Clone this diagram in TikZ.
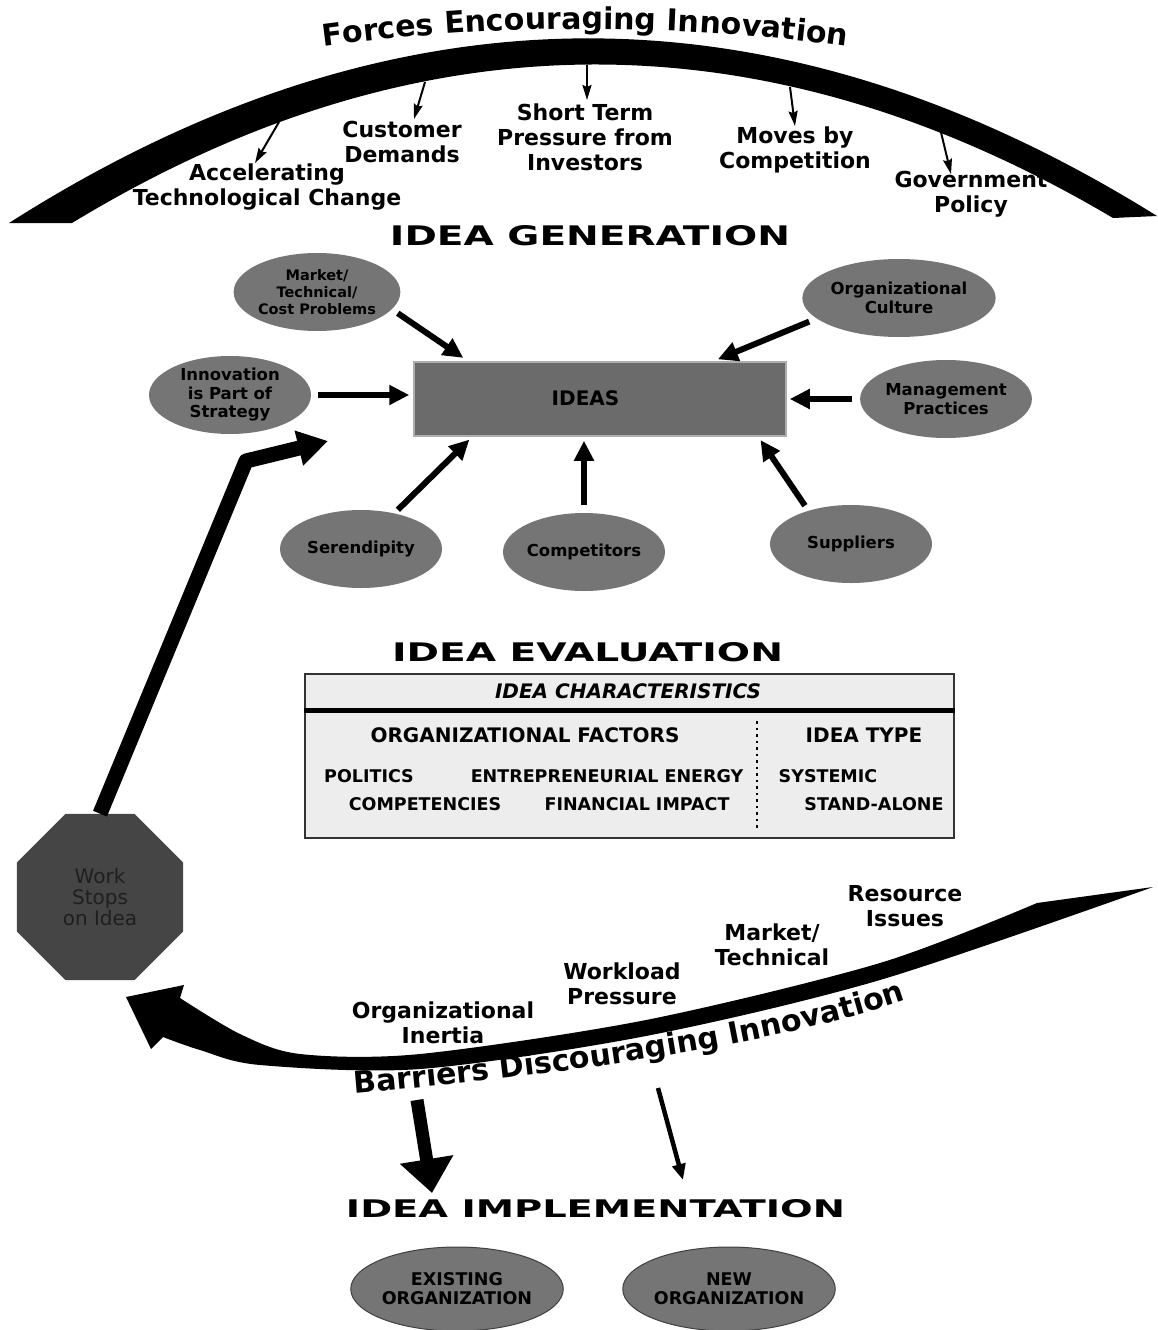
\documentclass[tikz,border=0pt]{standalone}
\usepackage{fontspec}
\usepackage{graphicx}
\setmainfont{DejaVu Sans}
\newfontfamily\headfont{DejaVu Sans}[UprightFont=*-Bold]
\usetikzlibrary{arrows.meta,shapes.geometric,decorations.text,calc}

\definecolor{bubblegray}{gray}{0.46}
\definecolor{ideasgray}{gray}{0.42}
\definecolor{ideasedge}{gray}{0.68}
\definecolor{stopgray}{gray}{0.27}
\definecolor{stoptext}{gray}{0.12}
\definecolor{panelgray}{gray}{0.93}

% wide stage headings, stretched to a fixed width and cap height
\newcommand{\stagehead}[3]{\resizebox{#1}{#2}{\headfont #3}}

\begin{document}
\begin{tikzpicture}[x=1pt,y=-1pt,
  lbl/.style={font=\bfseries\fontsize{22}{25}\selectfont, align=center, inner sep=0pt},
  bubble/.style={ellipse, fill=bubblegray, minimum width=162pt, minimum height=78pt,
    inner sep=0pt, align=center, font=\bfseries\fontsize{16.5}{18.5}\selectfont},
  orgbubble/.style={ellipse, fill=bubblegray, draw=black!75, line width=1pt,
    minimum width=206pt, minimum height=84pt, inner sep=0pt, align=center,
    font=\bfseries\fontsize{17.5}{19}\selectfont},
  ideasbox/.style={rectangle, fill=ideasgray, draw=ideasedge, line width=1.5pt,
    minimum width=372pt, minimum height=74pt, inner sep=0pt},
  stopsign/.style={regular polygon, regular polygon sides=8, minimum size=180pt,
    fill=stopgray, text=stoptext, inner sep=0pt, align=center,
    font=\fontsize{20}{21}\selectfont},
  panel/.style={rectangle, fill=panelgray, draw=black!80, line width=1.6pt,
    minimum width=649pt, minimum height=164pt, inner sep=0pt},
  paneltext/.style={inner sep=0pt, font=\bfseries\fontsize{17.5}{19}\selectfont},
  panelhead/.style={inner sep=0pt, font=\bfseries\fontsize{20}{22}\selectfont},
  forcearrow/.style={line width=2pt, -{Stealth[length=15pt,width=9pt,inset=2pt]}},
  idarrow/.style={line width=6pt, -{Triangle[length=20pt,width=19pt]}},
]
\useasboundingbox (0,0) rectangle (1158,1330);
\fill[white] (0,0) rectangle (1158,1330);

% ---------- forces arch ----------
\fill (9,223) .. controls (392,-21) and (774,-23) .. (1157,216)
  -- (1113,218) .. controls (765,12) and (418,13) .. (72,223) -- cycle;
\path[decorate, decoration={text along path, text align=center,
  text={|\bfseries\fontsize{30}{31}\selectfont|Forces Encouraging Innovation}}]
  (296,50) .. controls (490,22) and (680,22) .. (874,50);

\node[lbl] (accel) at (267,187) {Accelerating\\Technological Change};
\node[lbl] (cust)  at (402,142) {Customer\\Demands};
\node[lbl] (short) at (585,137) {Short Term\\Pressure from\\Investors};
\node[lbl] (moves) at (795,150) {Moves by\\Competition};
\node[lbl] (govt)  at (971,194) {Government\\Policy};

\coordinate (f1a) at (279,122); \coordinate (f1b) at (255,163);
\coordinate (f2a) at (425,82);  \coordinate (f2b) at (414,119);
\coordinate (f3a) at (587,65);  \coordinate (f3b) at (587,100);
\coordinate (f4a) at (790,87);  \coordinate (f4b) at (795,126);
\coordinate (f5a) at (939,124); \coordinate (f5b) at (951,174);
\draw[forcearrow] (f1a) -- (f1b);
\draw[forcearrow] (f2a) -- (f2b);
\draw[forcearrow] (f3a) -- (f3b);
\draw[forcearrow] (f4a) -- (f4b);
\draw[forcearrow] (f5a) -- (f5b);

% ---------- idea generation ----------
\node[inner sep=0pt] (genhead) at (590,236) {\stagehead{400pt}{20pt}{IDEA GENERATION}};

\node[bubble, font=\bfseries\fontsize{14.5}{17}\selectfont] (mtc) at (317,292) {Market/\\Technical/\\Cost Problems};
\node[bubble] (culture)  at (899,298) {Organizational\\Culture};
\node[bubble] (strategy) at (230,395) {Innovation\\is Part of\\Strategy};
\node[bubble] (mgmt)     at (946,399) {Management\\Practices};
\node[bubble] (seren)    at (361,549) {Serendipity};
\node[bubble] (compet)   at (584,552) {Competitors};
\node[bubble] (suppl)    at (851,544) {Suppliers};

\node[ideasbox] (ideas) at (600,399) {};
\node[inner sep=0pt, font=\bfseries\fontsize{20}{22}\selectfont] (ideaslabel) at (585.5,398) {IDEAS};

\draw[idarrow, shorten <=7pt, shorten >=6pt] (mtc.-13) -- ([xshift=55pt]ideas.north west);
\draw[idarrow, shorten <=8pt, shorten >=5pt] (culture.-166) -- ([xshift=300pt]ideas.north west);
\draw[idarrow, shorten <=7pt, shorten >=4pt] (strategy.east) -- (strategy.east -| ideas.west);
\draw[idarrow, shorten <=8pt, shorten >=3pt] (mgmt.west) -- (mgmt.west -| ideas.east);
\draw[idarrow, shorten <=5pt, shorten >=4pt] (seren.47) -- ([xshift=59pt]ideas.south west);
\draw[idarrow, shorten <=8pt, shorten >=4pt] (compet.north) -- (compet.north |- ideas.south);
\draw[idarrow, shorten <=6pt, shorten >=4pt] (suppl.142) -- ([xshift=345pt]ideas.south west);

% ---------- work stops on idea ----------
\node[stopsign] (stop) at (100,897) {Work\\Stops\\on Idea};
\coordinate (upbend) at (246,461);
\coordinate (uptip) at (328,441);
\draw[line width=15pt, line join=round, -{Triangle[length=30pt,width=34pt]}]
  (stop.north) -- (upbend) -- (uptip);

% ---------- idea evaluation ----------
\node[inner sep=0pt] (evalhead) at (587.5,652.5) {\stagehead{391pt}{19pt}{IDEA EVALUATION}};
\node[panel] (evalbox) at (629.5,756) {};
\draw[line width=5pt] ([yshift=-37pt]evalbox.north west) -- ([yshift=-37pt]evalbox.north east);
\coordinate (dv1) at (757,721); \coordinate (dv2) at (757,828);
\draw[line width=2.2pt, dash pattern=on 2.5pt off 4pt] (dv1) -- (dv2);

\node[panelhead, font=\bfseries\itshape\fontsize{20}{22}\selectfont] (charhead) at (628,691) {IDEA CHARACTERISTICS};
\node[panelhead] (orgfac) at (525,735) {ORGANIZATIONAL FACTORS};
\node[panelhead] (itype)  at (864,735) {IDEA TYPE};
\node[paneltext] (pol)  at (369,776) {POLITICS};
\node[paneltext] (entr) at (607,776) {ENTREPRENEURIAL ENERGY};
\node[paneltext] (syst) at (828,776) {SYSTEMIC};
\node[paneltext] (comp) at (425,804) {COMPETENCIES};
\node[paneltext] (fin)  at (637,804) {FINANCIAL IMPACT};
\node[paneltext] (stand) at (874,804) {STAND-ALONE};

% ---------- barriers arrow ----------
\fill (1153,887) -- (1037,903)
  -- plot[smooth] coordinates {(1037,903) (880,963) (646,1020) (420,1054) (300,1054) (240,1034) (180,998)}
  -- (184,985) -- (126,997) -- (151,1049) -- (163,1037)
  -- plot[smooth] coordinates {(163,1037) (200,1050) (260,1065) (420,1069) (646,1036) (880,980) (1153,887)}
  -- cycle;
\path[decorate, decoration={text along path, text align=center,
  text={|\bfseries\fontsize{30}{31}\selectfont|Barriers Discouraging Innovation}}]
  (345,1094) .. controls (540,1078) and (780,1046) .. (915,997);

\node[lbl] (resiss) at (905,906)  {Resource\\Issues};
\node[lbl] (mkttech) at (772,945) {Market/\\Technical};
\node[lbl] (workld) at (622,984)  {Workload\\Pressure};
\node[lbl] (inertia) at (443,1023) {Organizational\\Inertia};

% ---------- idea implementation ----------
\coordinate (d1a) at (417,1100); \coordinate (d1b) at (432,1193);
\coordinate (d2a) at (658,1088); \coordinate (d2b) at (683,1180);
\draw[line width=13pt, -{Triangle[length=34pt,width=52pt]}] (d1a) -- (d1b);
\draw[line width=4.5pt, -{Triangle[length=16pt,width=13pt]}] (d2a) -- (d2b);

\node[inner sep=0pt] (implhead) at (595.5,1209) {\stagehead{499pt}{18pt}{IDEA IMPLEMENTATION}};
\node[orgbubble] (existing) at (457,1289) {EXISTING\\ORGANIZATION};
\node[orgbubble] (neworg)   at (729,1289) {NEW\\ORGANIZATION};
\end{tikzpicture}
\end{document}
